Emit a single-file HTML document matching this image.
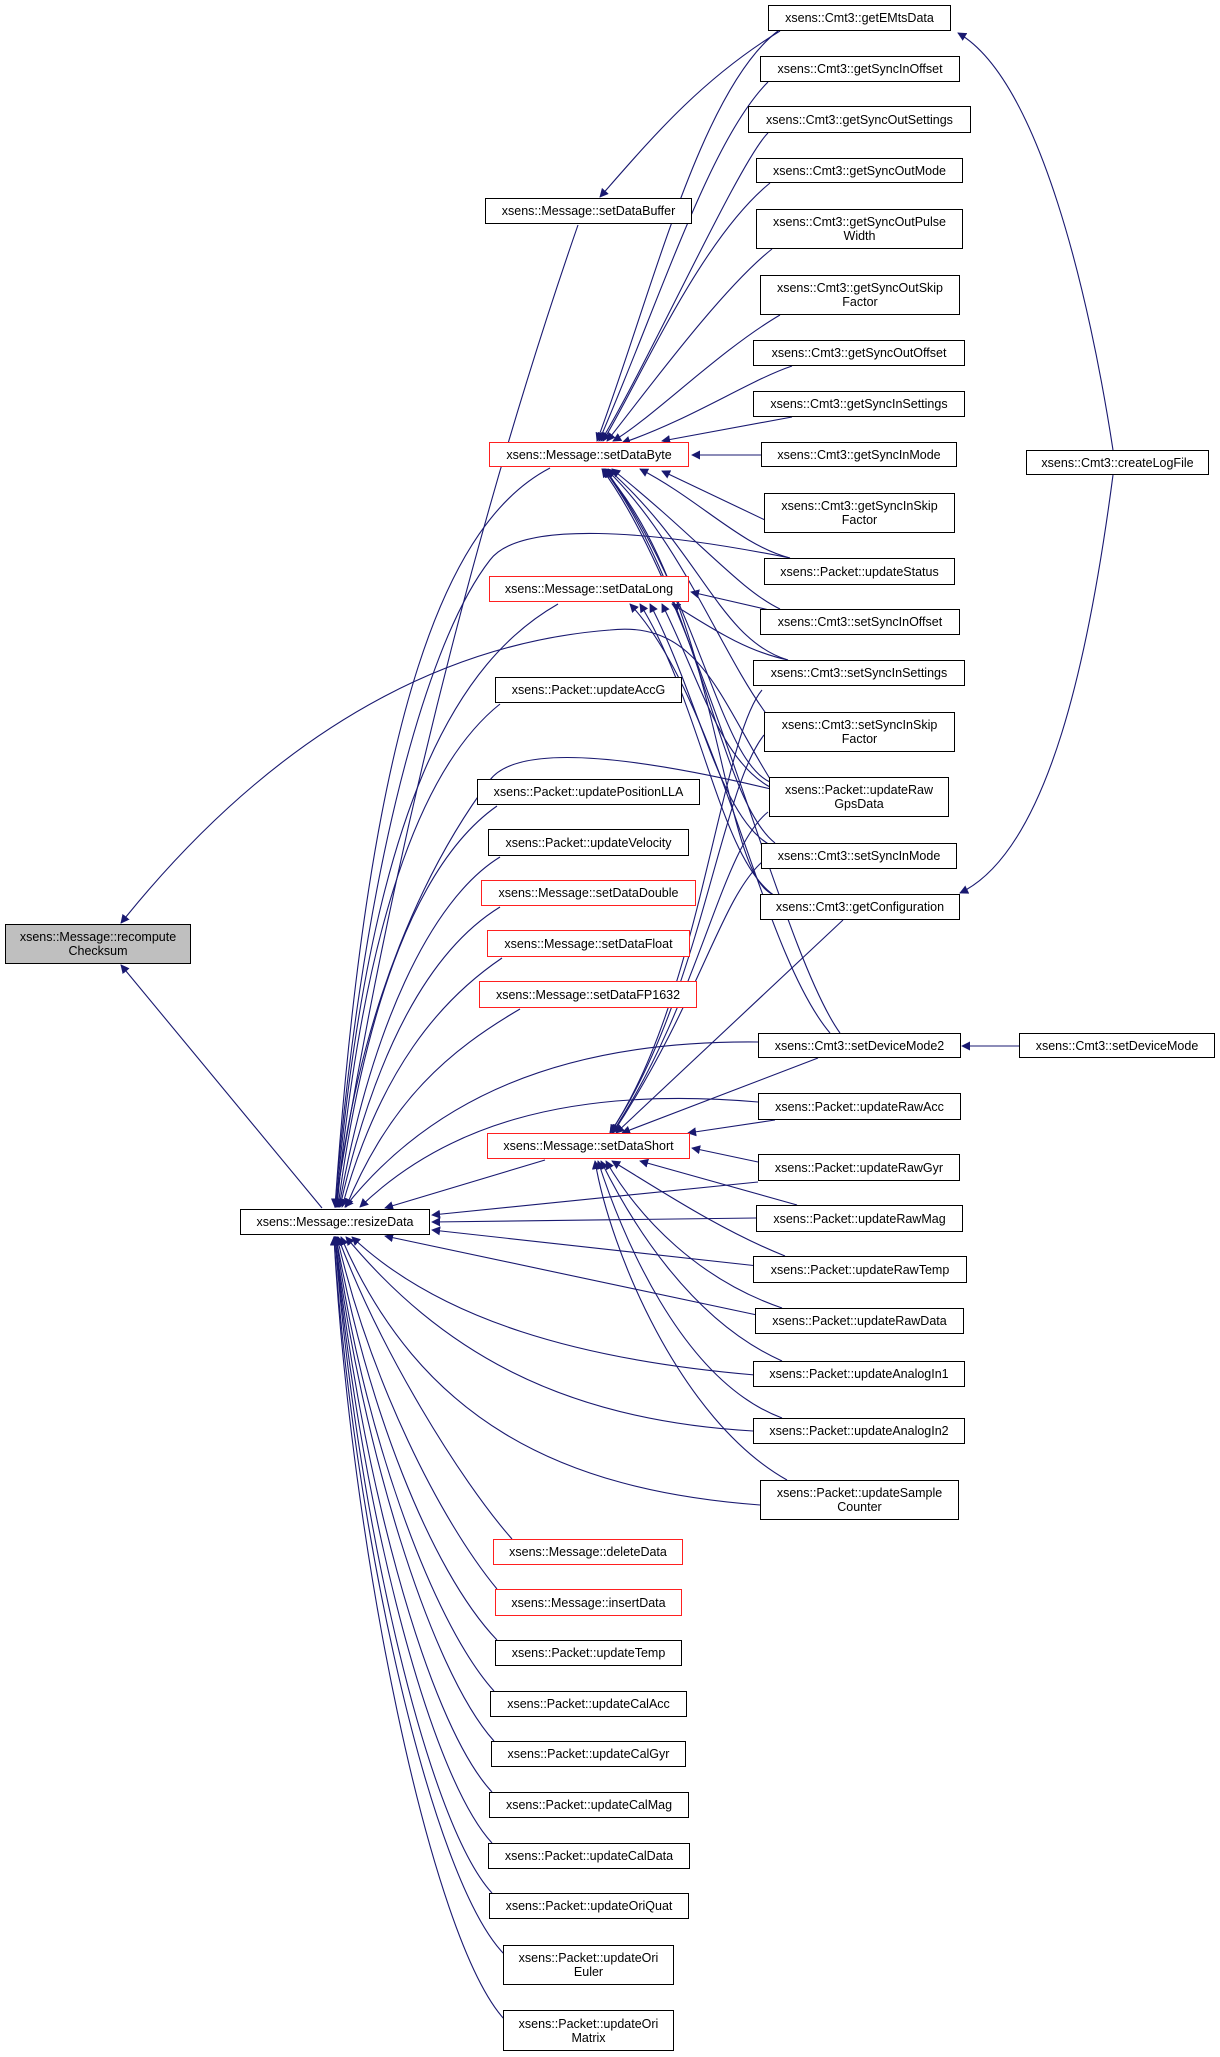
<!DOCTYPE html>
<html><head><meta charset="utf-8"><style>
html,body{margin:0;padding:0;background:#fff;}
body{width:1220px;height:2057px;position:relative;overflow:hidden;font-family:"Liberation Sans",Arial,sans-serif;}
svg{position:absolute;left:0;top:0;}
.n{position:absolute;box-sizing:border-box;border:1.3px solid #000;background:#fff;font-size:12.5px;line-height:14px;color:#000;display:flex;align-items:center;justify-content:center;text-align:center;white-space:nowrap;}
.r{border-color:#ff2020;}
.g{background:#bfbfbf;}
</style></head><body>
<svg width="1220" height="2057" viewBox="0 0 1220 2057">
<defs><marker id="a" viewBox="0 0 10 10" refX="9" refY="5" markerWidth="9" markerHeight="9" orient="auto" markerUnits="userSpaceOnUse"><path d="M0,0 L10,5 L0,10 z" fill="#191970"/></marker></defs>
<g fill="none" stroke="#191970" stroke-width="1.1" marker-end="url(#a)">
<!-- to setDataByte -->
<path d="M778,31 C700,90 650,300 597,441"/>
<path d="M768,82 C710,140 660,300 599,441"/>
<path d="M768,133 C740,160 650,360 601,441"/>
<path d="M770,183 C700,240 640,380 603,441"/>
<path d="M772,249 C720,290 640,400 607,441"/>
<path d="M780,315 C720,350 650,420 613,441"/>
<path d="M792,366 C750,380 690,420 622,443"/>
<path d="M792,417 L662,441"/>
<path d="M761,455 L692,455"/>
<path d="M765,520 L662,471"/>
<path d="M790,558 C740,545 700,500 640,469"/>
<path d="M780,609 C740,590 700,540 612,469"/>
<path d="M788,660 C720,640 700,550 608,469"/>
<path d="M765,712 C720,650 680,540 606,469"/>
<path d="M770,782 C720,760 700,600 605,469"/>
<path d="M775,843 C720,800 700,600 604,469"/>
<path d="M772,894 C720,870 720,600 603,469"/>
<path d="M840,1033 C780,950 700,600 602,469"/>
<!-- to setDataLong -->
<path d="M778,612 L691,592"/>
<path d="M788,660 C740,650 700,620 672,604"/>
<path d="M770,787 C720,760 700,680 662,604"/>
<path d="M772,846 C720,820 700,700 650,604"/>
<path d="M775,896 C720,860 700,700 640,604"/>
<path d="M830,1033 C760,950 720,700 630,604"/>
<!-- to setDataShort -->
<path d="M775,1120 L688,1133"/>
<path d="M818,1058 L622,1133"/>
<path d="M843,920 L616,1133"/>
<path d="M762,690 C720,740 700,1000 610,1133"/>
<path d="M764,735 C720,790 700,1000 610,1133"/>
<path d="M768,812 C720,850 700,1000 612,1133"/>
<path d="M762,862 C720,900 700,1000 613,1133"/>
<path d="M758,1162 L692,1148"/>
<path d="M797,1205 L640,1161"/>
<path d="M785,1256 C720,1230 660,1190 612,1161"/>
<path d="M782,1308 C700,1280 640,1220 606,1161"/>
<path d="M782,1361 C690,1320 630,1220 601,1161"/>
<path d="M782,1418 C680,1380 620,1230 598,1161"/>
<path d="M787,1480 C680,1420 610,1250 595,1161"/>
<!-- to resizeData -->
<path d="M550,468 C450,520 370,700 335,1207"/>
<path d="M558,604 C460,660 370,800 336,1207"/>
<path d="M500,704 C430,760 365,900 337,1207"/>
<path d="M497,806 C420,860 365,1000 338,1207"/>
<path d="M500,857 C430,900 370,1030 339,1207"/>
<path d="M500,907 C430,950 375,1050 340,1207"/>
<path d="M502,958 C440,1000 380,1070 342,1207"/>
<path d="M520,1009 C450,1050 390,1100 346,1207"/>
<path d="M545,1160 L385,1208"/>
<path d="M790,558 C650,530 520,520 490,560 C420,650 360,900 335,1207"/>
<path d="M775,790 C650,760 520,740 490,780 C430,860 360,1000 336,1207"/>
<path d="M758,1042 C560,1040 430,1100 345,1207"/>
<path d="M758,1102 C560,1085 440,1130 360,1207"/>
<path d="M758,1182 L432,1215"/>
<path d="M756,1218 L432,1222"/>
<path d="M758,1266 L432,1230"/>
<path d="M757,1315 L385,1236"/>
<path d="M755,1375 C580,1360 440,1320 352,1237"/>
<path d="M753,1431 C560,1420 440,1350 346,1237"/>
<path d="M760,1505 C560,1490 420,1420 341,1237"/>
<path d="M512,1539 C460,1480 380,1350 338,1237"/>
<path d="M497,1589 C440,1520 370,1380 337,1237"/>
<path d="M497,1640 C430,1570 365,1400 336,1237"/>
<path d="M494,1691 C430,1620 360,1420 336,1237"/>
<path d="M494,1741 C430,1670 360,1440 335,1237"/>
<path d="M492,1792 C425,1720 358,1460 335,1237"/>
<path d="M492,1843 C425,1770 356,1480 335,1237"/>
<path d="M492,1893 C425,1820 354,1500 335,1237"/>
<path d="M505,1955 C430,1880 352,1520 334,1237"/>
<path d="M505,2020 C430,1940 350,1540 334,1237"/>
<!-- others -->
<path d="M322,1208 L121,965"/>
<path d="M772,782 C720,700 700,620 610,630 C480,640 300,700 121,923"/>
<path d="M780,31 C700,80 650,140 600,197"/>
<path d="M578,225 C500,450 400,800 335,1207"/>
<path d="M1113,450 C1090,300 1040,80 958,33"/>
<path d="M1113,475 C1090,650 1050,850 960,893"/>
<path d="M1019,1046 L962,1046"/>
</g>
</svg>
<div class="n" style="left:768px;top:5px;width:183px;height:26px">xsens::Cmt3::getEMtsData</div>
<div class="n" style="left:760px;top:56px;width:200px;height:26px">xsens::Cmt3::getSyncInOffset</div>
<div class="n" style="left:748px;top:106px;width:223px;height:27px">xsens::Cmt3::getSyncOutSettings</div>
<div class="n" style="left:756px;top:158px;width:207px;height:25px">xsens::Cmt3::getSyncOutMode</div>
<div class="n" style="left:756px;top:209px;width:207px;height:40px">xsens::Cmt3::getSyncOutPulse<br>Width</div>
<div class="n" style="left:760px;top:275px;width:200px;height:40px">xsens::Cmt3::getSyncOutSkip<br>Factor</div>
<div class="n" style="left:753px;top:340px;width:212px;height:26px">xsens::Cmt3::getSyncOutOffset</div>
<div class="n" style="left:753px;top:391px;width:212px;height:26px">xsens::Cmt3::getSyncInSettings</div>
<div class="n" style="left:761px;top:442px;width:196px;height:25px">xsens::Cmt3::getSyncInMode</div>
<div class="n" style="left:764px;top:493px;width:191px;height:40px">xsens::Cmt3::getSyncInSkip<br>Factor</div>
<div class="n" style="left:764px;top:558px;width:191px;height:27px">xsens::Packet::updateStatus</div>
<div class="n" style="left:760px;top:609px;width:200px;height:26px">xsens::Cmt3::setSyncInOffset</div>
<div class="n" style="left:753px;top:660px;width:212px;height:26px">xsens::Cmt3::setSyncInSettings</div>
<div class="n" style="left:764px;top:712px;width:191px;height:40px">xsens::Cmt3::setSyncInSkip<br>Factor</div>
<div class="n" style="left:769px;top:777px;width:180px;height:40px">xsens::Packet::updateRaw<br>GpsData</div>
<div class="n" style="left:761px;top:843px;width:196px;height:26px">xsens::Cmt3::setSyncInMode</div>
<div class="n" style="left:760px;top:894px;width:200px;height:26px">xsens::Cmt3::getConfiguration</div>
<div class="n" style="left:758px;top:1033px;width:203px;height:25px">xsens::Cmt3::setDeviceMode2</div>
<div class="n" style="left:1019px;top:1033px;width:196px;height:25px">xsens::Cmt3::setDeviceMode</div>
<div class="n" style="left:1026px;top:450px;width:183px;height:25px">xsens::Cmt3::createLogFile</div>
<div class="n" style="left:758px;top:1093px;width:203px;height:27px">xsens::Packet::updateRawAcc</div>
<div class="n" style="left:758px;top:1154px;width:202px;height:27px">xsens::Packet::updateRawGyr</div>
<div class="n" style="left:756px;top:1205px;width:207px;height:27px">xsens::Packet::updateRawMag</div>
<div class="n" style="left:753px;top:1256px;width:214px;height:27px">xsens::Packet::updateRawTemp</div>
<div class="n" style="left:755px;top:1308px;width:209px;height:26px">xsens::Packet::updateRawData</div>
<div class="n" style="left:753px;top:1361px;width:212px;height:26px">xsens::Packet::updateAnalogIn1</div>
<div class="n" style="left:753px;top:1418px;width:212px;height:26px">xsens::Packet::updateAnalogIn2</div>
<div class="n" style="left:760px;top:1480px;width:199px;height:40px">xsens::Packet::updateSample<br>Counter</div>

<div class="n" style="left:485px;top:198px;width:207px;height:26px">xsens::Message::setDataBuffer</div>
<div class="n r" style="left:489px;top:442px;width:200px;height:25px">xsens::Message::setDataByte</div>
<div class="n r" style="left:489px;top:576px;width:200px;height:26px">xsens::Message::setDataLong</div>
<div class="n" style="left:495px;top:677px;width:187px;height:26px">xsens::Packet::updateAccG</div>
<div class="n" style="left:477px;top:779px;width:223px;height:26px">xsens::Packet::updatePositionLLA</div>
<div class="n" style="left:488px;top:829px;width:201px;height:27px">xsens::Packet::updateVelocity</div>
<div class="n r" style="left:481px;top:880px;width:215px;height:26px">xsens::Message::setDataDouble</div>
<div class="n r" style="left:487px;top:930px;width:203px;height:27px">xsens::Message::setDataFloat</div>
<div class="n r" style="left:479px;top:981px;width:218px;height:27px">xsens::Message::setDataFP1632</div>
<div class="n r" style="left:487px;top:1133px;width:203px;height:26px">xsens::Message::setDataShort</div>
<div class="n r" style="left:493px;top:1539px;width:190px;height:26px">xsens::Message::deleteData</div>
<div class="n r" style="left:495px;top:1589px;width:187px;height:27px">xsens::Message::insertData</div>
<div class="n" style="left:495px;top:1640px;width:187px;height:26px">xsens::Packet::updateTemp</div>
<div class="n" style="left:490px;top:1691px;width:197px;height:26px">xsens::Packet::updateCalAcc</div>
<div class="n" style="left:491px;top:1741px;width:195px;height:26px">xsens::Packet::updateCalGyr</div>
<div class="n" style="left:489px;top:1792px;width:200px;height:26px">xsens::Packet::updateCalMag</div>
<div class="n" style="left:488px;top:1843px;width:202px;height:26px">xsens::Packet::updateCalData</div>
<div class="n" style="left:489px;top:1893px;width:200px;height:26px">xsens::Packet::updateOriQuat</div>
<div class="n" style="left:503px;top:1945px;width:171px;height:40px">xsens::Packet::updateOri<br>Euler</div>
<div class="n" style="left:503px;top:2010px;width:171px;height:41px">xsens::Packet::updateOri<br>Matrix</div>

<div class="n g" style="left:5px;top:924px;width:186px;height:40px">xsens::Message::recompute<br>Checksum</div>
<div class="n" style="left:240px;top:1209px;width:190px;height:26px">xsens::Message::resizeData</div>
</body></html>
